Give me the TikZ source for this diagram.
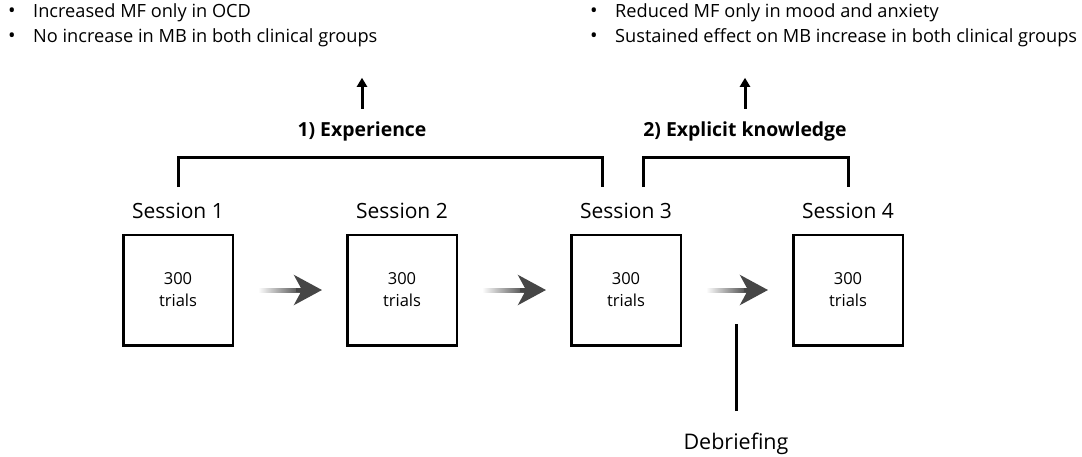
\documentclass[tikz,border=0pt]{standalone}
\usepackage{fontspec}
\setmainfont{Open Sans}
\usetikzlibrary{arrows.meta,positioning}

\tikzset{
  trialbox/.style={draw, line width=2.5pt, minimum width=109.5pt, minimum height=110.5pt,
    align=center, font=\fontsize{16.5}{22}\selectfont},
  sessionlabel/.style={font=\fontsize{21}{24}\selectfont},
  phaselabel/.style={font=\bfseries\fontsize{19.4}{22}\selectfont},
  notes/.style={font=\fontsize{18.2}{25}\selectfont, align=left, anchor=north west, inner sep=0pt},
  flowtip/.style={draw=gray!55!black, fill=gray!55!black, line width=4pt,
    -{Stealth[length=28pt,width=30pt,inset=8pt]}, shorten <=62pt, shorten >=24pt},
  flowshaft/.style={left color=white, right color=gray!55!black},
  bracket/.style={line width=3pt},
  result/.style={line width=3pt, -{Triangle[length=9pt,width=10pt]}}
}
\newcommand{\bul}{\makebox[25pt][l]{\fontsize{20}{20}\selectfont\textbullet}}

\begin{document}
\begin{tikzpicture}[x=1pt,y=-1pt]
    \useasboundingbox (0,0) rectangle (1082,456);

    % Sessions
    \node[trialbox] (box1) at (178,290) {300\\trials};
    \node[trialbox] (box2) at (402,290) {300\\trials};
    \node[trialbox] (box3) at (626,290) {300\\trials};
    \node[trialbox] (box4) at (848,290) {300\\trials};
    \node[sessionlabel] (lab1) at (178,211) {Session 1};
    \node[sessionlabel] (lab2) at (402,211) {Session 2};
    \node[sessionlabel] (lab3) at (626,211) {Session 3};
    \node[sessionlabel] (lab4) at (848,211) {Session 4};

    % Fleches entre sessions (tige en degrade + pointe)
    \foreach \a/\b in {box1/box2, box2/box3, box3/box4} {
      \shade[flowshaft] ([xshift=24pt,yshift=-2pt]\a.east) rectangle ([xshift=-44pt,yshift=2pt]\b.west);
      \draw[flowtip] (\a) -- (\b);
    }

    % Debriefing
    \node[font=\fontsize{21.5}{24}\selectfont, anchor=base] (debrief) at (736,449) {Debriefing};
    \draw[bracket] ([yshift=18pt]debrief.north) -- ([yshift=105pt]debrief.north);

    % Phases
    \node[phaselabel] (exp) at (362,131) {1) Experience};
    \node[phaselabel] (know) at (745,131) {2) Explicit knowledge};
    \draw[bracket] (lab1.north |- 0,187) -- (lab1.north |- 0,157) -| ([xshift=-24pt]lab3.north |- 0,187);
    \draw[bracket] ([xshift=17pt]lab3.north |- 0,187) -- ([xshift=17pt]lab3.north |- 0,157) -| (lab4.north |- 0,187);

    % Resultats
    \node[notes] (res1) at (8,3) {\bul Increased MF only in OCD\\ \bul No increase in MB in both clinical groups};
    \node[notes] (res2) at (590,3) {\bul Reduced MF only in mood and anxiety\\ \bul Sustained effect on MB increase in both clinical groups};
    \draw[result] ([yshift=9pt]exp.north) -- ([yshift=40pt]exp.north);
    \draw[result] ([yshift=9pt]know.north) -- ([yshift=40pt]know.north);
\end{tikzpicture}
\end{document}
